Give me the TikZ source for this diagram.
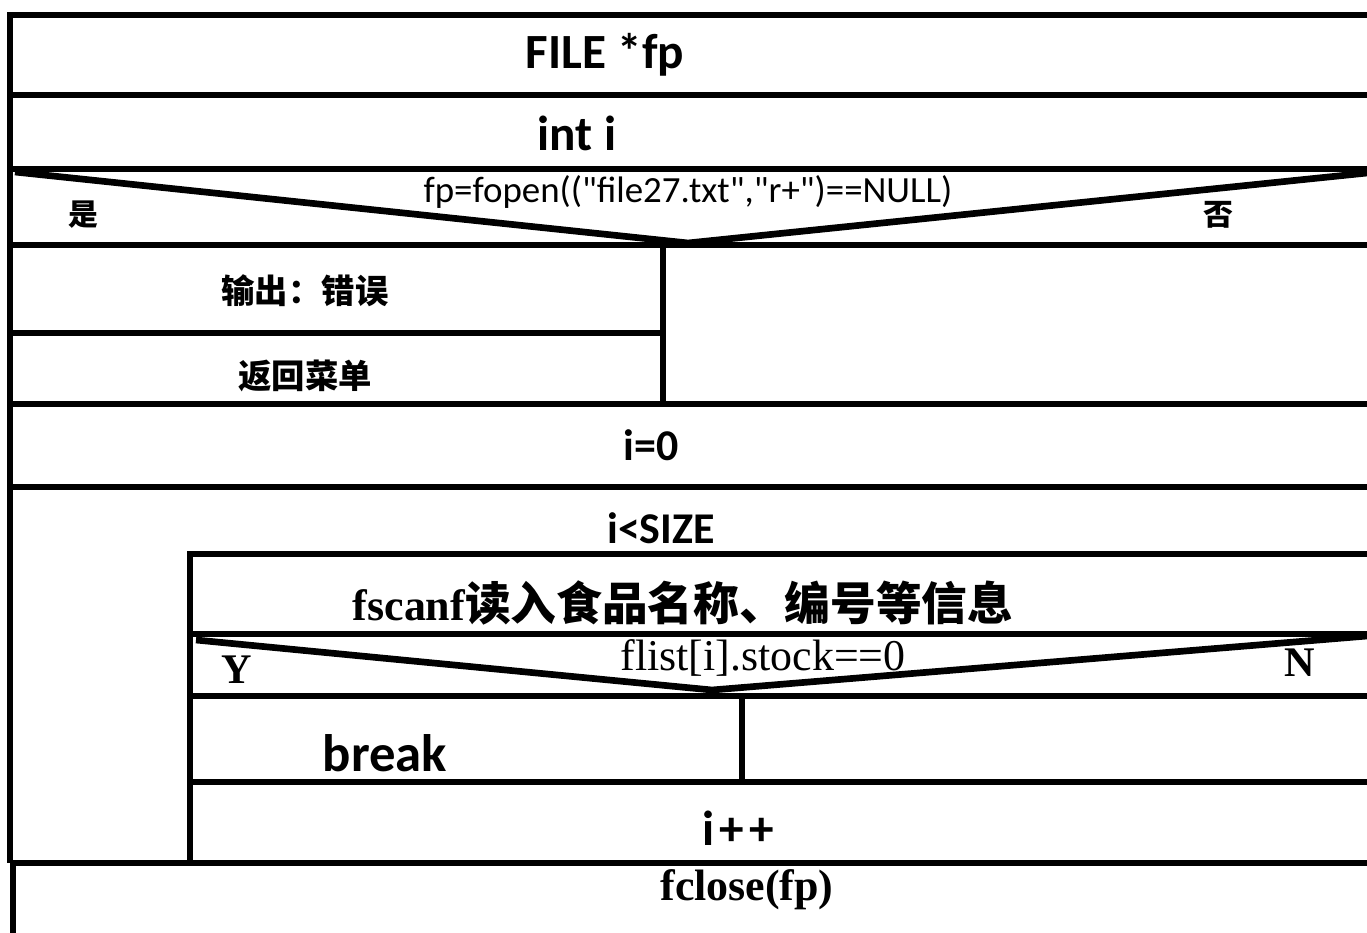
\documentclass[tikz,border=0pt]{standalone}
\usepackage{fontspec}
\setmainfont{Liberation Serif}
\newfontfamily\cali{Carlito}
\newfontfamily\cjk{Noto Sans CJK SC}
\usetikzlibrary{calc}
\tikzset{
  nsline/.style={line width=3.8pt,black},
  stmt/.style={inner sep=0pt,font=\cali\bfseries\fontsize{28}{30}\selectfont},
  bigstmt/.style={stmt,font=\cali\bfseries\fontsize{30}{32}\selectfont},
  smallstmt/.style={stmt,font=\cali\bfseries\fontsize{25}{27}\selectfont},
  cond/.style={inner sep=0pt,font=\cali\fontsize{21}{23}\selectfont},
  yesno/.style={inner sep=0pt,font=\cjk\bfseries\fontsize{17}{19}\selectfont},
  cnstmt/.style={inner sep=0pt,font=\cjk\bfseries\fontsize{19}{21}\selectfont},
  serifstmt/.style={inner sep=0pt,font=\rmfamily\bfseries\fontsize{25}{27}\selectfont},
  yn/.style={inner sep=0pt,font=\rmfamily\bfseries\fontsize{24}{26}\selectfont},
}
\begin{document}
\begin{tikzpicture}[x=0.02cm,y=-0.02cm]
	\useasboundingbox (0,0) rectangle (1367,933);
	\draw[nsline] (1367,15) -- (10,15) -- (10,863);
	\draw[nsline] (13,863) -- (13,933);
	\foreach \y in {95,169,245,404,487,863}
		\draw[nsline] (10,\y) -- (1367,\y);
	\draw[nsline] (10,333) -- (663,333);
	\draw[nsline] (663,245) -- (663,404);
	\draw[nsline] (15,172) -- (688,243) -- (1367,173);
	\draw[nsline] (1367,554) -- (190,554) -- (190,863);
	\foreach \y in {634,696,782}
		\draw[nsline] (190,\y) -- (1367,\y);
	\draw[nsline] (196,640) -- (712,690) -- (1367,636);
	\draw[nsline] (742,696) -- (742,782);
	\node[stmt] (decl) at (605,55) {FILE *fp};
	\node[stmt] (var) at (577,133) {int i};
	\node[cond] (open) at (688,192) {fp=fopen(("file27.txt","r+")==NULL)};
	\node[yesno] (yes) at (83,215) {是};
	\node[yesno] (no) at (1218,215) {否};
	\node[cnstmt] (err) at (305,291) {输出：错误};
	\node[cnstmt] (menu) at (305,376) {返回菜单};
	\node[smallstmt] (init) at (651,445) {i=0};
	\node[smallstmt] (loop) at (661,528) {i<SIZE};
	\node[serifstmt] (read) at (683,603) {fscanf{\cjk\bfseries\fontsize{26}{28}\selectfont 读入食品名称、编号等信息}};
	\node[serifstmt] (stock) at (763,658) {\mdseries flist[i].stock==0};
	\node[yn] (y) at (237,670) {Y};
	\node[yn] (n) at (1300,663) {N};
	\node[bigstmt] (brk) at (385,753) {break};
	\node[stmt] (inc) at (738,828) {i\kern3pt+\kern3pt+};
	\node[serifstmt] (close) at (747,890) {fclose(fp)};
\end{tikzpicture}
\end{document}
